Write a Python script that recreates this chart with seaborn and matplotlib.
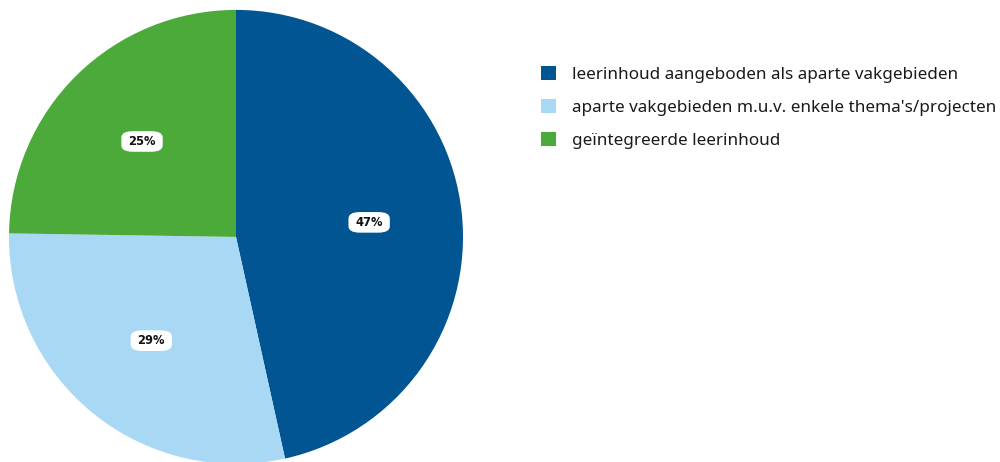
import matplotlib
matplotlib.use("Agg")
import matplotlib.pyplot as plt
import seaborn as sns
from matplotlib.patches import Patch

sns.set_theme(style="white")
plt.rcParams["font.family"] = ["Noto Sans", "DejaVu Sans"]

categories = [
    "leerinhoud aangeboden als aparte vakgebieden",
    "aparte vakgebieden m.u.v. enkele thema's/projecten",
    "geïntegreerde leerinhoud",
]
values = [47, 29, 25]
colors = ["#015592", "#a8d8f4", "#4caa3a"]

fig = plt.figure(figsize=(10, 4.62), dpi=100)
ax = fig.add_axes([0.009, -0.0043, 0.454, 0.983])

wedges, texts, autotexts = ax.pie(
    values,
    colors=colors,
    startangle=90,
    counterclock=False,
    radius=1,
    autopct=lambda p: f"{p * sum(values) / 100:.0f}%",
    pctdistance=0.59,
    wedgeprops=dict(linewidth=0),
)
for t in autotexts:
    t.set_family("DejaVu Sans")
    t.set_fontsize(8.3)
    t.set_fontweight("bold")
    t.set_color("#111111")
    t.set_bbox(dict(boxstyle="round,pad=0.6,rounding_size=1.0",
                    mutation_aspect=0.55, fc="white", ec="none"))
ax.set_xlim(-1, 1)
ax.set_ylim(-1, 1)
ax.set_aspect("equal")
ax.axis("off")

handles = [Patch(facecolor=c, edgecolor="none") for c in colors]
leg = fig.legend(
    handles,
    categories,
    loc="upper left",
    bbox_to_anchor=(0.534, 0.871),
    frameon=False,
    fontsize=12.3,
    handlelength=0.88,
    handleheight=0.88,
    handletextpad=0.94,
    labelspacing=0.94,
    borderaxespad=0,
)
for txt in leg.get_texts():
    txt.set_color("#1a1a1a")

fig.savefig("out.png", dpi=100)
